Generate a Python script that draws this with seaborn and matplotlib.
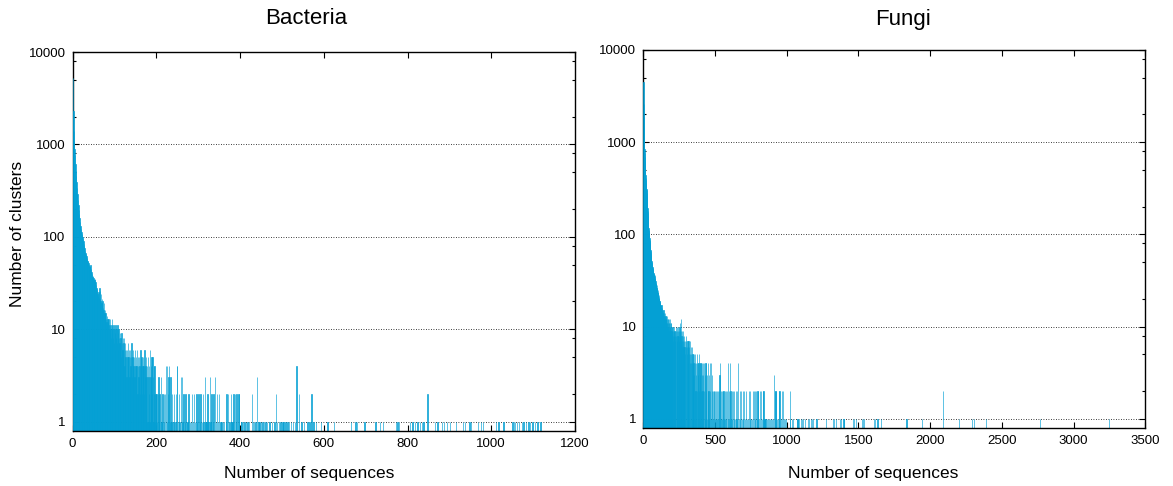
import matplotlib
matplotlib.use("Agg")
import matplotlib.pyplot as plt
import numpy as np
import pandas as pd
import seaborn as sns
from matplotlib.ticker import FixedLocator, NullFormatter

sns.set_theme(style="ticks")
plt.rcParams['font.family'] = ['Liberation Sans', 'DejaVu Sans']
plt.rcParams['text.color'] = 'black'
plt.rcParams['axes.labelcolor'] = 'black'

BAR_COLOR = "#04A0D4"

# ---------------- Bacteria ----------------
# number of clusters for cluster sizes 1..200
bacteria_head = [
    5200, 2300, 1400, 1100, 900, 760, 620, 520, 450, 390,
    340, 290, 250, 220, 195, 175, 160, 145, 132, 122,
    114, 108, 104, 99, 95, 90, 84, 79, 75, 70,
    67, 65, 62, 59, 57, 55, 54, 52, 50, 49,
    47, 48, 50, 45, 42, 40, 38, 37, 38, 36,
    35, 33, 34, 35, 32, 30, 28, 26, 27, 24,
    23, 25, 22, 28, 26, 21, 20, 24, 19, 18,
    21, 20, 17, 16, 19, 15, 14, 16, 15, 13,
    12, 14, 11, 13, 12, 13, 10, 11, 9, 13,
    10, 8, 11, 13, 9, 10, 8, 11, 7, 10,
    9, 6, 11, 8, 10, 7, 11, 9, 6, 10,
    8, 7, 9, 6, 8, 5, 9, 7, 6, 8,
    5, 7, 8, 4, 6, 7, 5, 6, 3, 6,
    5, 7, 4, 5, 6, 3, 5, 6, 4, 5,
    7, 3, 5, 4, 6, 4, 5, 3, 6, 4,
    5, 3, 4, 6, 2, 5, 4, 3, 5, 4,
    2, 6, 4, 3, 5, 2, 4, 5, 3, 4,
    2, 6, 3, 4, 2, 5, 3, 4, 1, 5,
    3, 2, 4, 1, 6, 3, 2, 4, 5, 2,
    5, 3, 1, 4, 2, 4, 1, 2, 2, 1,
]
# sparse tail: (cluster size, number of clusters)
bacteria_tail = [
    (201, 2), (202, 1), (204, 2), (205, 3), (206, 1), (208, 2), (211, 3), (213, 1),
    (215, 2), (218, 2), (219, 1), (221, 2), (223, 4), (225, 4), (226, 1), (228, 2),
    (229, 3), (231, 4), (233, 1), (234, 3), (236, 1), (238, 2), (241, 1), (243, 2),
    (246, 1), (247, 2), (249, 4), (250, 4), (252, 1), (254, 2), (256, 1), (259, 3),
    (261, 3), (263, 1), (265, 2), (268, 1), (270, 2), (273, 1), (275, 1), (277, 2),
    (280, 1), (283, 1), (285, 2), (288, 1), (290, 2), (293, 1), (296, 2), (298, 1),
    (301, 2), (304, 1), (306, 2), (309, 1), (311, 2), (313, 1), (316, 3), (318, 1),
    (320, 1), (322, 2), (325, 1), (328, 3), (330, 1), (332, 2), (335, 1), (337, 2),
    (340, 3), (343, 1), (345, 2), (348, 1), (350, 2), (353, 1), (356, 1), (359, 1),
    (362, 1), (366, 1), (368, 2), (372, 2), (375, 1), (378, 2), (380, 1), (382, 1),
    (384, 2), (388, 2), (390, 1), (392, 2), (396, 2), (398, 2), (402, 1), (404, 1),
    (407, 1), (411, 1), (415, 1), (418, 1), (422, 1), (428, 2), (431, 1), (434, 1),
    (437, 1), (440, 3), (444, 1), (447, 1), (450, 1), (454, 1), (458, 1), (461, 1),
    (465, 1), (470, 1), (477, 1), (482, 1), (486, 2), (489, 1), (493, 1), (497, 1),
    (501, 1), (504, 1), (509, 1), (513, 1), (517, 1), (522, 1), (527, 1), (531, 1),
    (535, 4), (541, 2), (547, 1), (553, 1), (561, 1), (566, 1), (571, 2), (576, 1),
    (581, 1), (593, 1), (609, 1), (625, 1), (665, 1), (676, 1), (680, 1), (697, 1),
    (724, 1), (734, 1), (742, 1), (772, 1), (776, 1), (780, 1), (806, 1), (812, 1),
    (818, 1), (824, 1), (830, 1), (834, 1), (838, 1), (848, 2), (866, 1), (872, 1),
    (882, 1), (887, 1), (894, 1), (901, 1), (916, 1), (932, 1), (937, 1), (948, 1),
    (951, 1), (969, 1), (975, 1), (980, 1), (1011, 1), (1017, 1), (1029, 1), (1051, 1),
    (1054, 1), (1057, 1), (1061, 1), (1066, 1), (1073, 1), (1077, 1), (1083, 1), (1089, 1),
    (1093, 1), (1099, 1), (1104, 1), (1110, 1), (1118, 1),
]

# ---------------- Fungi ----------------
fungi_head = [
    4500, 2600, 1900, 1500, 1250, 1050, 950, 850, 760, 690,
    620, 560, 510, 470, 440, 410, 385, 360, 340, 330,
    320, 310, 300, 280, 260, 240, 225, 210, 195, 180,
    170, 160, 148, 136, 125, 118, 112, 108, 104, 101,
    100, 96, 92, 88, 85, 80, 77, 74, 71, 68,
    66, 63, 60, 58, 56, 54, 52, 50, 49, 47,
    46, 45, 45, 44, 43, 42, 41, 40, 39, 38,
    38, 37, 36, 35, 37, 34, 36, 33, 35, 34,
    36, 32, 31, 30, 31, 29, 30, 28, 29, 27,
    28, 26, 28, 25, 26, 24, 25, 24, 23, 25,
    22, 23, 21, 24, 22, 20, 21, 22, 19, 20,
    18, 20, 19, 17, 19, 18, 16, 18, 17, 15,
    17, 16, 15, 17, 14, 16, 17, 13, 15, 14,
    16, 13, 15, 14, 12, 15, 13, 14, 12, 13,
    15, 12, 13, 11, 14, 12, 13, 10, 12, 14,
    11, 13, 12, 10, 13, 11, 12, 9, 13, 11,
    12, 10, 11, 13, 9, 12, 10, 11, 8, 12,
    10, 11, 9, 12, 10, 8, 11, 9, 12, 10,
    9, 11, 8, 12, 10, 9, 11, 8, 10, 9,
    11, 8, 10, 7, 9, 11, 8, 10, 9, 7,
]
fungi_tail = [
    (202, 9), (204, 10), (206, 8), (208, 9), (210, 7), (212, 9), (214, 8), (216, 10),
    (218, 9), (220, 8), (222, 7), (224, 9), (226, 10), (228, 8), (230, 9), (232, 10),
    (234, 7), (236, 9), (238, 8), (240, 10), (242, 9), (244, 8), (246, 7), (248, 9),
    (250, 8), (252, 10), (254, 9), (256, 11), (258, 8), (260, 12), (262, 7), (264, 9),
    (266, 8), (268, 7), (270, 9), (272, 6), (274, 8), (276, 7), (278, 9), (280, 6),
    (282, 7), (285, 8), (287, 6), (290, 7), (292, 5), (295, 8), (297, 6), (300, 7),
    (303, 5), (305, 6), (308, 7), (310, 4), (313, 6), (315, 7), (318, 5), (320, 6),
    (323, 4), (325, 7), (328, 5), (330, 6), (333, 4), (335, 5), (338, 6), (340, 4),
    (343, 5), (345, 3), (348, 5), (350, 4), (353, 5), (356, 3), (358, 4), (361, 5),
    (364, 2), (366, 4), (369, 3), (372, 5), (374, 4), (377, 2), (380, 4), (383, 3),
    (385, 4), (388, 5), (391, 2), (393, 4), (396, 3), (399, 4), (402, 2), (404, 4),
    (407, 3), (410, 4), (413, 2), (416, 4), (419, 3), (422, 2), (425, 4), (428, 1),
    (431, 3), (434, 4), (437, 2), (440, 4), (443, 1), (446, 3), (449, 2), (452, 4),
    (455, 2), (458, 1), (461, 3), (464, 4), (467, 2), (470, 1), (473, 4), (476, 2),
    (479, 3), (483, 2), (487, 1), (490, 2), (494, 2), (498, 1), (501, 2), (505, 1),
    (508, 2), (512, 2), (515, 1), (519, 2), (523, 1), (527, 2), (531, 3), (535, 4),
    (539, 2), (543, 1), (547, 2), (551, 1), (555, 2), (559, 2), (563, 1), (567, 2),
    (571, 1), (575, 2), (579, 1), (584, 2), (588, 1), (592, 4), (596, 2), (600, 1),
    (604, 4), (608, 2), (612, 1), (616, 2), (621, 1), (625, 2), (630, 1), (635, 2),
    (640, 1), (645, 2), (650, 1), (656, 2), (662, 4), (667, 1), (672, 2), (677, 1),
    (682, 2), (688, 1), (693, 2), (698, 1), (704, 2), (710, 1), (716, 2), (722, 1),
    (728, 1), (735, 2), (741, 1), (745, 2), (751, 1), (758, 1), (767, 2), (771, 2),
    (776, 1), (781, 2), (786, 2), (791, 1), (796, 2), (801, 2), (806, 1), (811, 2),
    (820, 2), (826, 1), (833, 2), (838, 2), (845, 1), (852, 1), (860, 1), (868, 1),
    (876, 1), (884, 1), (893, 1), (900, 1), (906, 1), (913, 3), (916, 2), (922, 2),
    (928, 2), (933, 1), (939, 1), (944, 2), (950, 2), (958, 1), (966, 2), (972, 2),
    (980, 1), (990, 1), (997, 1), (1020, 2), (1025, 1), (1036, 1), (1044, 1), (1069, 1),
    (1075, 1), (1081, 1), (1088, 1), (1097, 1), (1108, 1), (1115, 1), (1127, 1), (1150, 1),
    (1158, 1), (1168, 1), (1177, 1), (1185, 1), (1208, 1), (1273, 1), (1322, 1), (1328, 1),
    (1345, 1), (1374, 1), (1381, 1), (1396, 1), (1400, 1), (1461, 1), (1467, 1), (1485, 1),
    (1524, 1), (1530, 1), (1537, 1), (1610, 1), (1618, 1), (1633, 1), (1657, 1), (1835, 1),
    (1945, 1), (2090, 2), (2200, 1), (2293, 1), (2303, 1), (2389, 1), (2765, 1), (3248, 1),
]

y_ticks = [1, 10, 100, 1000, 10000]
y_tick_labels = ["1", "10", "100", "1000", "10000"]
bacteria_x_ticks = [0, 200, 400, 600, 800, 1000, 1200]
fungi_x_ticks = [0, 500, 1000, 1500, 2000, 2500, 3000, 3500]


def make_df(head, tail):
    sizes = list(range(1, len(head) + 1)) + [s for s, _ in tail]
    counts = list(head) + [c for _, c in tail]
    df = pd.DataFrame({"size": sizes, "count": counts})
    return df[df["count"] > 0]


fig = plt.figure(figsize=(11.73, 4.86), dpi=100)
ax1 = fig.add_axes([72.5 / 1173, 1 - 431 / 486, 502.5 / 1173, 379 / 486])
ax2 = fig.add_axes([643.3 / 1173, 1 - 428.3 / 486, 502 / 1173, 378.3 / 486])

panels = [
    (ax1, make_df(bacteria_head, bacteria_tail), bacteria_x_ticks, 1200),
    (ax2, make_df(fungi_head, fungi_tail), fungi_x_ticks, 3500),
]

minor_y = [m * 10 ** e for e in range(0, 4) for m in (2, 5, 8)]

for ax, df, xt, xmax in panels:
    sns.histplot(data=df, x="size", weights="count", discrete=True, ax=ax,
                 color=BAR_COLOR, edgecolor=BAR_COLOR, linewidth=0.45,
                 alpha=1.0, element="bars", fill=True)
    ax.set_yscale("log")
    ax.set_ylim(0.79, 10000)
    ax.set_xlim(0, xmax)
    ax.yaxis.set_major_locator(FixedLocator(y_ticks))
    ax.yaxis.set_minor_locator(FixedLocator(minor_y))
    ax.yaxis.set_minor_formatter(NullFormatter())
    ax.set_yticklabels(y_tick_labels)
    ax.set_xticks(xt)
    ax.set_xticklabels([str(t) for t in xt])
    ax.xaxis.set_minor_locator(FixedLocator([]))
    ax.set_xlabel("")
    ax.set_ylabel("")
    ax.set_axisbelow(True)
    ax.yaxis.grid(True, which="major", color="black", linestyle=(0, (1, 2)),
                  linewidth=0.6)
    ax.xaxis.grid(False)
    ax.tick_params(which="both", direction="in", top=True, right=True,
                   colors="black", labelsize=9.5, width=0.8)
    ax.tick_params(which="major", length=4, pad=5)
    ax.tick_params(which="minor", length=2.2)
    for name, sp in ax.spines.items():
        sp.set_visible(True)
        sp.set_color("black")
        sp.set_linewidth(1.0)
        sp.set_zorder(0.9 if name == "left" else 5)

fig.text(306 / 1173, 1 - 19 / 486, "Bacteria", ha="center", va="center", fontsize=16)
fig.text(903 / 1173, 1 - 19 / 486, "Fungi", ha="center", va="center", fontsize=16)
fig.text(309 / 1173, 1 - 473 / 486, "Number of sequences", ha="center", va="center", fontsize=12.5)
fig.text(873 / 1173, 1 - 473 / 486, "Number of sequences", ha="center", va="center", fontsize=12.5)
fig.text(18 / 1173, 1 - 234 / 486, "Number of clusters", ha="center", va="center",
         rotation=90, fontsize=12.5)

fig.savefig("out.png", dpi=100, facecolor="white")
